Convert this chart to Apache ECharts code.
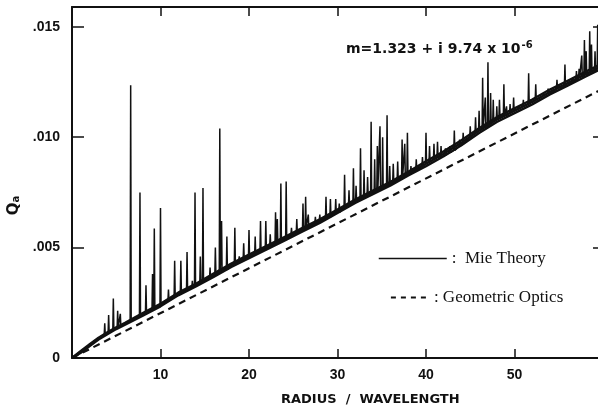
<!DOCTYPE html>
<html>
<head>
<meta charset="utf-8">
<script src="https://cdn.jsdelivr.net/npm/echarts@6/dist/echarts.min.js"></script>
<style>
html,body{margin:0;padding:0;background:#fff;}
#c{width:598px;height:411px;}
</style>
</head>
<body>
<div id="c"></div>
<script>
// ---- data ----
const xTicks = [10, 20, 30, 40, 50];
const yTicks = [0, 0.005, 0.010, 0.015];

// Geometric optics (dashed straight line)
const geoX = [0, 60];
const geoY = [0, 0.0122];

// Mie theory: the dense central band (lower edge, centre, upper edge)
const bandX = [0, 1, 2, 3, 4, 5, 6, 8, 10, 12, 14, 16, 18, 20, 22, 24, 26, 28, 30, 32, 34, 36, 38, 40, 42, 44, 46, 48, 50, 52, 54, 56, 58, 60];
const bandLow = [0, 0.00024, 0.00054, 0.00084, 0.00108, 0.00131, 0.00151, 0.00192, 0.00234, 0.00284, 0.00324, 0.00367, 0.00412, 0.00452, 0.00492, 0.00532, 0.00572, 0.00612, 0.00657, 0.00702, 0.00742, 0.00782, 0.00827, 0.00869, 0.00914, 0.00964, 0.01019, 0.01069, 0.01109, 0.01149, 0.01194, 0.01234, 0.01274, 0.01314];
const bandMid = [0, 0.00028, 0.00058, 0.00088, 0.00112, 0.00135, 0.00155, 0.00198, 0.0024, 0.0029, 0.0033, 0.00375, 0.0042, 0.0046, 0.0050, 0.0054, 0.0058, 0.0062, 0.00665, 0.0071, 0.0075, 0.0079, 0.00835, 0.0088, 0.00925, 0.00975, 0.0103, 0.0108, 0.0112, 0.0116, 0.01205, 0.01245, 0.01285, 0.01325];
const bandHigh = [0, 0.00032, 0.00062, 0.00092, 0.00116, 0.00139, 0.00159, 0.00204, 0.00246, 0.00296, 0.00336, 0.00383, 0.00428, 0.00468, 0.00508, 0.00548, 0.00588, 0.00628, 0.00673, 0.00718, 0.00758, 0.00798, 0.00843, 0.00891, 0.00936, 0.00986, 0.01041, 0.01091, 0.01131, 0.01171, 0.01216, 0.01256, 0.01296, 0.01336];

// Mie theory: resonance spikes (position, peak, local base)
const spikeX = [3.7, 4.14, 4.67, 5.16, 5.46, 6.63, 7.68, 8.36, 9.1, 9.3, 10.0, 10.9, 11.6, 12.3, 13.0, 13.6, 13.9, 14.5, 14.8, 15.6, 16.2, 16.7, 16.9, 17.5, 18.4, 18.9, 19.4, 20.0, 20.7, 21.3, 21.9, 22.4, 23.0, 23.2, 23.6, 24.2, 24.8, 25.4, 26.1, 26.4, 26.7, 27.5, 28.0, 28.7, 29.2, 29.8, 30.2, 30.8, 31.3, 31.8, 32.1, 32.6, 33.0, 33.4, 33.8, 34.2, 34.5, 34.8, 35.1, 35.6, 35.9, 36.3, 36.8, 37.3, 37.6, 37.9, 38.3, 38.9, 39.6, 40.0, 40.4, 40.9, 41.3, 41.7, 42.2, 42.7, 43.2, 43.8, 44.2, 45.0, 45.6, 46.0, 46.4, 46.7, 47.0, 47.3, 47.6, 48.0, 48.3, 48.8, 49.1, 49.5, 49.9, 50.5, 51.0, 51.6, 51.9, 52.4, 52.9, 53.3, 53.8, 54.2, 54.8, 55.1, 55.7, 56.2, 56.6, 57.0, 57.3, 57.6, 57.9, 58.1, 58.5, 58.7, 59.1, 59.4];
const spikePeak = [0.00157, 0.00195, 0.0027, 0.00214, 0.0020, 0.01235, 0.0075, 0.00329, 0.0038, 0.00587, 0.0068, 0.0031, 0.0044, 0.0044, 0.0048, 0.0035, 0.0075, 0.0046, 0.0077, 0.0041, 0.0050, 0.0104, 0.0062, 0.0055, 0.0059, 0.0046, 0.0052, 0.0058, 0.0055, 0.0062, 0.0062, 0.0056, 0.0066, 0.0063, 0.0079, 0.0080, 0.0059, 0.0063, 0.0070, 0.0073, 0.0065, 0.0064, 0.0065, 0.0073, 0.0072, 0.0072, 0.0070, 0.0083, 0.0076, 0.0086, 0.0078, 0.0095, 0.0085, 0.0082, 0.0107, 0.0090, 0.0096, 0.0105, 0.0100, 0.0110, 0.0087, 0.0088, 0.0089, 0.0099, 0.0097, 0.0102, 0.0087, 0.0090, 0.0091, 0.0102, 0.0096, 0.0097, 0.0098, 0.0096, 0.0095, 0.0096, 0.0103, 0.0099, 0.0102, 0.0105, 0.0109, 0.0112, 0.0127, 0.0118, 0.0134, 0.0120, 0.0117, 0.0114, 0.0117, 0.0124, 0.0114, 0.0115, 0.0118, 0.0114, 0.0117, 0.0129, 0.0117, 0.0124, 0.0118, 0.0120, 0.0122, 0.0122, 0.0126, 0.0124, 0.0133, 0.0126, 0.0127, 0.0130, 0.0131, 0.0137, 0.0144, 0.0139, 0.0148, 0.0142, 0.0139, 0.0151];
const spikeBase = [0.00105, 0.00115, 0.00128, 0.00138, 0.00144, 0.0017, 0.0019, 0.00205, 0.0022, 0.0023, 0.0024, 0.0026, 0.0028, 0.0030, 0.0031, 0.0032, 0.0033, 0.0034, 0.0035, 0.0036, 0.0038, 0.0039, 0.0039, 0.0040, 0.0043, 0.0044, 0.0045, 0.0046, 0.0047, 0.0049, 0.0050, 0.0051, 0.0052, 0.0052, 0.0053, 0.0054, 0.0056, 0.0057, 0.0058, 0.0059, 0.0059, 0.0061, 0.0062, 0.0063, 0.0064, 0.0066, 0.0066, 0.0068, 0.0069, 0.0070, 0.0071, 0.0072, 0.0073, 0.0074, 0.0074, 0.0075, 0.0076, 0.0076, 0.0077, 0.0078, 0.0079, 0.0080, 0.0081, 0.0082, 0.0082, 0.0083, 0.0084, 0.0085, 0.0087, 0.0088, 0.0089, 0.0090, 0.0091, 0.0091, 0.0092, 0.0093, 0.0094, 0.0096, 0.0097, 0.0100, 0.0102, 0.0103, 0.0104, 0.0104, 0.0105, 0.0106, 0.0107, 0.0108, 0.0109, 0.0110, 0.0110, 0.0111, 0.0112, 0.0113, 0.0114, 0.0115, 0.0116, 0.0117, 0.0118, 0.0119, 0.0120, 0.0120, 0.0122, 0.0122, 0.0123, 0.0124, 0.0125, 0.0126, 0.0127, 0.0127, 0.0128, 0.0128, 0.0129, 0.0129, 0.0130, 0.0131];

// ---- build series tables ----
const geoData = geoX.map((x, i) => [x, geoY[i]]);
const lowData = bandX.map((x, i) => [x, bandLow[i]]);
const midData = bandX.map((x, i) => [x, bandMid[i]]);
const highData = bandX.map((x, i) => [x, bandHigh[i]]);
const spikeW = 0.06;
const spikeData = [];
spikeX.forEach((x, i) => {
  spikeData.push([x - spikeW, spikeBase[i]]);
  spikeData.push([x, spikePeak[i]]);
  spikeData.push([x + spikeW, spikeBase[i]]);
});

const FONT = 'DejaVu Sans';
const TICKFONT = 'Liberation Sans';
const SERIF = 'Liberation Serif';
const INK = '#111';
const bandLine = (name, data) => ({
  name, type: 'line', data, showSymbol: false, symbol: 'none',
  lineStyle: {color: INK, width: 2.4}, itemStyle: {color: INK}, z: 3
});
const chart = echarts.init(document.getElementById('c'), null, {renderer: 'canvas'});
chart.setOption({
  animation: false,
  backgroundColor: '#fff',
  grid: {left: 72, top: 7, right: -5, bottom: 53, containLabel: false, outerBoundsMode: 'none'},
  title: [
    {
      text: '{a|m=1.323 + i 9.74 x 10}{b|-6}',
      left: 341, top: 35,
      textStyle: {
        rich: {
          a: {fontFamily: FONT, fontWeight: 'bold', fontSize: 14, color: INK, lineHeight: 18},
          b: {fontFamily: FONT, fontWeight: 'bold', fontSize: 10, color: INK, verticalAlign: 'top', padding: [0, 0, 8, 1]}
        }
      }
    },
    {
      text: 'RADIUS  /  WAVELENGTH',
      left: 276, top: 388,
      textStyle: {fontFamily: FONT, fontWeight: 'bold', fontSize: 13, color: INK}
    }
  ],
  legend: [
    {
      data: ['Mie Theory'], left: 373, top: 245, itemWidth: 68, itemHeight: 14,
      formatter: ':  Mie Theory',
      itemStyle: {opacity: 0},
      lineStyle: {width: 1.5, color: INK},
      textStyle: {fontFamily: SERIF, fontSize: 17, color: INK}
    },
    {
      data: ['Geometric Optics'], left: 385, top: 284, itemWidth: 38, itemHeight: 14,
      formatter: ': Geometric Optics',
      itemStyle: {opacity: 0},
      lineStyle: {width: 1.8, color: INK, type: [5, 5]},
      textStyle: {fontFamily: SERIF, fontSize: 17, color: INK}
    }
  ],
  xAxis: [
    {
      type: 'value', min: 0, max: 60, interval: 10, position: 'bottom',
      axisLine: {show: true, onZero: false, lineStyle: {color: INK, width: 2}},
      axisTick: {show: true, inside: true, length: 9, lineStyle: {color: INK, width: 1.5}, customValues: xTicks},
      axisLabel: {show: true, margin: 10, fontFamily: TICKFONT, fontWeight: 'bold', fontSize: 14, color: INK,
        customValues: xTicks,
        formatter: v => (v > 0 && v < 60) ? String(v) : ''},
      splitLine: {show: false}
    },
    {
      type: 'value', min: 0, max: 60, interval: 10, position: 'top',
      axisLine: {show: true, onZero: false, lineStyle: {color: INK, width: 2}},
      axisTick: {show: true, inside: true, length: 9, lineStyle: {color: INK, width: 1.5}, customValues: xTicks},
      axisLabel: {show: false},
      splitLine: {show: false}
    }
  ],
  yAxis: [
    {
      type: 'value', min: 0, max: 0.0159, interval: 0.005, position: 'left',
      name: '{q|Q}{s|a}', nameLocation: 'middle', nameGap: 40, nameRotate: 90,
      nameTextStyle: {
        padding: [0, 46, 0, 0],
        rich: {
          q: {fontFamily: FONT, fontWeight: 'bold', fontSize: 15, color: INK},
          s: {fontFamily: FONT, fontWeight: 'bold', fontSize: 10, color: INK, verticalAlign: 'bottom', padding: [6, 0, 0, 0]}
        }
      },
      axisLine: {show: true, onZero: false, lineStyle: {color: INK, width: 2}},
      axisTick: {show: true, inside: true, length: 12, lineStyle: {color: INK, width: 1.5}, customValues: yTicks},
      axisLabel: {show: true, margin: 12, fontFamily: TICKFONT, fontWeight: 'bold', fontSize: 14, color: INK,
        customValues: yTicks,
        formatter: v => v === 0 ? '0' : '.' + String(Math.round(v * 1000)).padStart(3, '0')},
      splitLine: {show: false}
    },
    {
      type: 'value', min: 0, max: 0.0159, interval: 0.005, position: 'right',
      axisLine: {show: true, onZero: false, lineStyle: {color: INK, width: 2}},
      axisTick: {show: true, inside: true, length: 10, lineStyle: {color: INK, width: 1.5}, customValues: yTicks},
      axisLabel: {show: false},
      splitLine: {show: false}
    }
  ],
  series: [
    {
      name: 'Geometric Optics', type: 'line', data: geoData, showSymbol: false, symbol: 'none',
      lineStyle: {color: INK, width: 2.2, type: [7, 5]}, itemStyle: {color: INK}, z: 2
    },
    bandLine('band low', lowData),
    bandLine('band mid', midData),
    bandLine('band high', highData),
    {
      name: 'Mie Theory', type: 'line', data: spikeData, showSymbol: false, symbol: 'none',
      lineStyle: {color: INK, width: 1.5}, itemStyle: {color: INK}, z: 4
    }
  ]
});
</script>
</body>
</html>
